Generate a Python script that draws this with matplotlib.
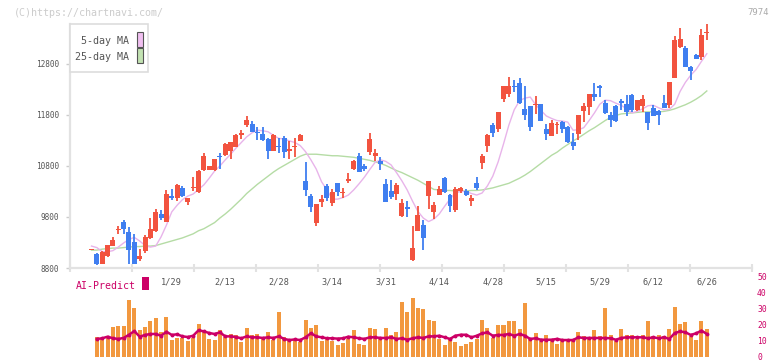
import numpy as np
import matplotlib
matplotlib.use('Agg')
import matplotlib.pyplot as plt
from matplotlib.patches import Rectangle

plt.rcParams['font.family'] = 'DejaVu Sans Mono'

W, H = 772, 361

# x labels (placed on candle index)
date_labels = ['1/29', '2/13', '2/28', '3/14', '3/31', '4/14',
               '4/28', '5/15', '5/29', '6/12', '6/26']
label_idx = [15, 25, 35, 45, 55, 65, 75, 85, 95, 105, 115]
price_ticks = [8800, 9800, 10800, 11800, 12800]
ai_ticks = [0, 10, 20, 30, 40, 50]

# daily candles
opens = [9145, 9070, 8880, 9040, 9230, 9550, 9700, 9510, 9310, 8980,
         9140, 9390, 9530, 9860, 9710, 10210, 10180, 10370, 10090, 10360,
         10290, 10720, 10720, 10720, 11000, 11020, 11100, 11180, 11410, 11600,
         11620, 11470, 11430, 11330, 11100, 11190, 11340, 11090, 11170, 11290,
         10500, 10210, 9690, 10100, 10410, 10080, 10470, 10270, 10500, 10740,
         11000, 10800, 11070, 11000, 10900, 10450, 10310, 10250, 9820, 9990,
         8960, 9530, 9640, 10210, 9900, 10240, 10560, 10230, 9940, 10300,
         10300, 10120, 10470, 10860, 11190, 11600, 11520, 12110, 12210, 12370,
         12420, 11910, 11975, 11990, 12010, 11520, 11390, 11600, 11670, 11570,
         11260, 11430, 11870, 11960, 12210, 12360, 12040, 11800, 11980, 12070,
         12010, 12190, 11900, 11980, 11850, 11930, 11880, 12030, 12000, 12520,
         13140, 13120, 12730, 12980, 12940, 13400]
closes = [9160, 8880, 9120, 9250, 9340, 9570, 9560, 9150, 8880, 9040,
          9410, 9560, 9900, 9780, 10250, 10170, 10420, 10210, 10170, 10390,
          10700, 11000, 10800, 10930, 10970, 11240, 11260, 11410, 11450, 11700,
          11470, 11440, 11300, 11100, 11410, 11170, 11070, 11130, 11190, 11400,
          10320, 10000, 10050, 10160, 10170, 10280, 10280, 10290, 10540, 10900,
          10690, 10750, 11330, 11060, 10840, 10100, 10190, 10430, 10070, 9960,
          9200, 9840, 9390, 10500, 10040, 10350, 10280, 10020, 10340, 10370,
          10240, 10180, 10370, 11000, 11410, 11440, 11850, 12360, 12370, 12340,
          12030, 11800, 11570, 12020, 11690, 11430, 11650, 11620, 11520, 11260,
          11190, 11800, 11980, 12210, 12150, 12330, 11830, 11710, 11680, 12030,
          11850, 11900, 12090, 12110, 11650, 11780, 11800, 11930, 12450, 13270,
          13290, 12730, 12670, 12890, 13370, 13430]
highs = [9160, 9090, 9140, 9260, 9410, 9620, 9740, 9610, 9460, 9170,
         9440, 9780, 9950, 9940, 10320, 10350, 10450, 10410, 10180, 10580,
         10720, 11060, 10800, 10940, 11050, 11250, 11270, 11420, 11500, 11780,
         11680, 11570, 11570, 11340, 11420, 11340, 11390, 11280, 11340, 11420,
         10870, 10260, 10060, 10230, 10450, 10350, 10470, 10360, 10670, 10910,
         11060, 10840, 11440, 11130, 10980, 10540, 10530, 10470, 10150, 10110,
         9620, 10020, 9740, 10500, 10100, 10410, 10590, 10260, 10390, 10390,
         10350, 10230, 10590, 11030, 11430, 11640, 11860, 12370, 12550, 12490,
         12520, 12370, 11980, 12170, 12020, 11620, 11710, 11670, 11690, 11580,
         11450, 11800, 12040, 12220, 12420, 12380, 12090, 11850, 12000, 12110,
         12190, 12210, 12090, 12190, 11860, 12000, 11890, 12190, 12450, 13340,
         13510, 13150, 12750, 12990, 13490, 13580]
lows = [9145, 8860, 8880, 9020, 9230, 9470, 9470, 8880, 8880, 8930,
        9100, 9370, 9510, 9740, 9700, 10130, 10110, 10200, 10030, 10300,
        10270, 10700, 10720, 10710, 10750, 11000, 10930, 11170, 11320, 11560,
        11460, 11310, 11290, 10930, 11090, 11050, 10950, 10930, 10980, 11280,
        10220, 9900, 9620, 9990, 10110, 10010, 10220, 10180, 10470, 10720,
        10680, 10700, 11020, 10900, 10720, 10100, 10150, 10130, 9800, 9790,
        8940, 9530, 9150, 9950, 9760, 10240, 10270, 9900, 9900, 10270,
        10220, 10010, 10320, 10750, 11080, 11360, 11470, 12050, 12160, 12240,
        12020, 11710, 11490, 11820, 11680, 11310, 11380, 11430, 11450, 11250,
        11110, 11310, 11670, 11800, 12080, 12150, 11820, 11560, 11670, 11900,
        11780, 11860, 11880, 11860, 11500, 11770, 11600, 11930, 11930, 12520,
        13110, 12730, 12480, 12890, 12880, 13270]

ma5 = [9230, 9200, 9120, 9120, 9140, 9210, 9290, 9360, 9400, 9330,
       9240, 9210, 9230, 9410, 9640, 9900, 10030, 10140, 10210, 10250,
       10340, 10430, 10560, 10700, 10800, 10920, 11030, 11150, 11260, 11370,
       11450, 11500, 11490, 11470, 11400, 11340, 11330, 11290, 11260, 11200,
       11080, 10920, 10740, 10490, 10330, 10150, 10150, 10180, 10230, 10330,
       10450, 10580, 10730, 10870, 10920, 10890, 10820, 10670, 10510, 10330,
       10110, 9910, 9780, 9710, 9760, 9860, 10010, 10150, 10270, 10300,
       10300, 10260, 10230, 10270, 10410, 10600, 10880, 11230, 11600, 11900,
       12080, 12130, 12150, 12000, 11890, 11780, 11730, 11690, 11680, 11660,
       11500, 11510, 11550, 11690, 11840, 12010, 12090, 12080, 12030, 11990,
       11920, 11840, 11870, 11920, 11980, 11990, 11940, 11900, 11910, 12010,
       12260, 12440, 12580, 12690, 12850, 13000]
ma25 = [9150, 9150, 9170, 9180, 9190, 9190, 9200, 9210, 9220, 9220,
        9230, 9230, 9240, 9270, 9300, 9330, 9360, 9390, 9430, 9470,
        9530, 9570, 9630, 9690, 9780, 9860, 9950, 10050, 10150, 10260,
        10350, 10440, 10520, 10600, 10680, 10750, 10810, 10870, 10930, 10990,
        11030, 11030, 11030, 11020, 11010, 11000, 11000, 10990, 10980, 10970,
        10950, 10930, 10910, 10880, 10850, 10810, 10760, 10710, 10670, 10620,
        10570, 10520, 10460, 10400, 10340, 10330, 10320, 10320, 10310, 10310,
        10310, 10320, 10320, 10330, 10350, 10370, 10400, 10430, 10460, 10510,
        10560, 10620, 10690, 10770, 10850, 10930, 11010, 11070, 11150, 11220,
        11290, 11350, 11420, 11490, 11550, 11620, 11690, 11750, 11790, 11820,
        11830, 11840, 11850, 11860, 11860, 11860, 11860, 11870, 11890, 11920,
        11960, 12000, 12050, 12110, 12180, 12270]

# AI-Predict panel (starts at second candle)
ai_bars = [12.5, 11.3, 12.3, 18.8, 19.4, 19.4, 35.6, 30.6, 16.7, 18.8,
           22.5, 24.4, 15.6, 25.0, 10.6, 11.9, 11.9, 10.0, 11.9, 20.6,
           15.8, 11.3, 10.6, 16.9, 12.3, 14.4, 13.8, 9.4, 18.1, 13.8,
           14.4, 11.9, 15.6, 10.6, 28.1, 12.5, 10.0, 11.3, 9.4, 23.1,
           18.1, 20.0, 10.0, 11.9, 10.0, 7.5, 8.8, 11.3, 16.9, 8.1,
           7.5, 18.1, 17.5, 11.3, 18.1, 13.8, 15.6, 34.4, 28.1, 36.9,
           30.6, 30.0, 23.1, 22.5, 11.3, 7.5, 11.3, 9.4, 6.9, 8.1,
           9.4, 11.3, 23.1, 18.1, 11.9, 20.0, 20.0, 22.5, 22.5, 17.5,
           33.8, 11.3, 15.0, 10.0, 13.8, 10.0, 8.1, 10.0, 10.0, 10.0,
           15.6, 13.1, 11.9, 16.9, 13.1, 30.6, 13.8, 10.0, 17.5, 13.8,
           13.8, 11.3, 13.8, 22.5, 13.1, 13.8, 13.1, 17.5, 31.3, 20.6,
           21.9, 13.1, 10.6, 22.5, 17.5]
ai_line = [11.3, 11.7, 12.7, 11.7, 11.3, 11.9, 13.9, 16.2, 12.7, 13.8,
           14.4, 14.4, 13.3, 15.8, 13.8, 14.2, 12.9, 12.5, 13.3, 16.7,
           16.0, 15.0, 14.4, 15.4, 12.9, 12.9, 12.5, 11.7, 12.9, 12.3,
           12.3, 11.9, 12.3, 11.9, 12.9, 11.3, 10.6, 11.0, 10.6, 12.3,
           14.8, 12.9, 12.3, 11.7, 11.7, 11.5, 11.7, 12.7, 12.3, 11.7,
           11.3, 12.3, 12.3, 11.9, 11.9, 12.3, 11.3, 11.7, 10.8, 11.7,
           12.3, 11.9, 12.9, 12.9, 13.3, 12.3, 11.3, 13.3, 13.9, 13.9,
           12.3, 13.3, 14.8, 15.4, 13.3, 13.8, 13.8, 14.4, 13.3, 14.4,
           13.3, 11.3, 11.7, 10.8, 10.8, 10.8, 11.3, 10.6, 10.6, 10.6,
           12.3, 11.9, 11.9, 11.9, 11.9, 11.9, 11.7, 10.8, 11.9, 12.3,
           12.3, 12.3, 12.3, 11.7, 12.3, 11.7, 12.3, 11.3, 15.0, 16.0,
           15.4, 13.8, 14.8, 16.5, 14.4]

RED = '#f2533f'
BLUE = '#3f7ef0'
GRID = '#e2e2e2'
CRIMSON = '#cc0066'
XMIN, XMAX = -4.02, 123.5

fig = plt.figure(figsize=(W / 100, H / 100), dpi=100)

# ---- AI-Predict panel (drawn first, transparent background)
ax2 = fig.add_axes([70 / W, 1 - 357 / H, (752.3 - 70) / W, 80 / H])
ax2.patch.set_visible(False)
ax2.set_xlim(XMIN, XMAX)
ax2.set_ylim(0, 50)
xa = np.arange(1, len(ai_bars) + 1)
ax2.bar(xa, ai_bars, width=0.75, color='#f2983f', linewidth=0, zorder=2)
ax2.plot(xa, ai_line, color=CRIMSON, linewidth=1.8, marker='o',
         markersize=1.8, zorder=3)
for s in ax2.spines.values():
    s.set_visible(False)
ax2.set_xticks([])
ax2.yaxis.tick_right()
ax2.set_yticks(ai_ticks)
ax2.set_yticklabels([str(v) for v in ai_ticks])
ax2.tick_params(axis='y', length=0, pad=3.4, labelsize=5.8, labelcolor=CRIMSON)

# ---- price panel
ax = fig.add_axes([70 / W, 1 - 268 / H, (752.3 - 70) / W, (268 - 18) / H])
ax.patch.set_visible(False)
ax.set_xlim(XMIN, XMAX)
ax.set_ylim(8800, 13700)

x = np.arange(len(closes))
o = np.array(opens)
c = np.array(closes)
up = c >= o
cols = np.where(up, RED, BLUE)

ax.plot(x, ma25, color='#b5dca5', linewidth=1, zorder=2)
ax.plot(x, ma5, color='#e8b4ea', linewidth=1, zorder=2)
ax.vlines(x, lows, highs, colors=cols, linewidth=1.3, zorder=3)
ax.bar(x, np.maximum(np.abs(c - o), 20), bottom=np.minimum(o, c),
       width=0.93, color=cols, linewidth=0, zorder=4)

for s in ('top', 'right'):
    ax.spines[s].set_visible(False)
ax.spines['bottom'].set_color(GRID)
ax.spines['bottom'].set_linewidth(1.6)
ax.spines['left'].set_color(GRID)
ax.spines['left'].set_linewidth(1.6)
ax.spines['left'].set_bounds(8800, 13580)

ax.set_xticks(np.arange(XMIN, XMAX + 0.5, 11.58))
ax.set_xticklabels([])
ax.tick_params(axis='x', direction='inout', length=6, width=1.5, color=GRID)
ax.set_yticks(price_ticks)
ax.set_yticklabels([str(v) for v in price_ticks])
ax.tick_params(axis='y', length=3, width=1, color='#cccccc', pad=4.6,
               labelsize=5.6, labelcolor='#555555')

for i, lab in zip(label_idx, date_labels):
    ax.text(i, -0.056, lab, transform=ax.get_xaxis_transform(),
            ha='center', va='center', fontsize=6.2, color='#555555')

# ---- legend box
fig.add_artist(Rectangle((70 / W, 1 - 72 / H), 78 / W, 48 / H,
                         transform=fig.transFigure, facecolor='white',
                         edgecolor='#dddddd', linewidth=1.2, zorder=10))
fig.text(129 / W, 1 - 41.5 / H, '5-day MA', ha='right', va='center',
         fontsize=7.2, color='#555555', zorder=11)
fig.text(129 / W, 1 - 57 / H, '25-day MA', ha='right', va='center',
         fontsize=7.2, color='#555555', zorder=11)
fig.add_artist(Rectangle((136.5 / W, 1 - 47 / H), 6 / W, 15 / H,
                         transform=fig.transFigure, facecolor='#f0bff0',
                         edgecolor='#555555', linewidth=0.8, zorder=11))
fig.add_artist(Rectangle((136.5 / W, 1 - 63 / H), 6 / W, 15 / H,
                         transform=fig.transFigure, facecolor='#c2e2b2',
                         edgecolor='#555555', linewidth=0.8, zorder=11))

fig.text(75.7 / W, 1 - 286 / H, 'AI-Predict', ha='left', va='center',
         fontsize=7.1, color=CRIMSON)
fig.add_artist(Rectangle((142 / W, 1 - 290 / H), 7 / W, 13 / H,
                         transform=fig.transFigure, facecolor=CRIMSON,
                         edgecolor='none'))

# ---- header texts
fig.text(14 / W, 1 - 12.5 / H, '(C)https://chartnavi.com/', ha='left',
         va='center', fontsize=7.2, color='#cccccc')
fig.text(769 / W, 1 - 12.5 / H, '7974', ha='right', va='center',
         fontsize=6.5, color='#aaaaaa')

fig.savefig('out.png', dpi=100)
